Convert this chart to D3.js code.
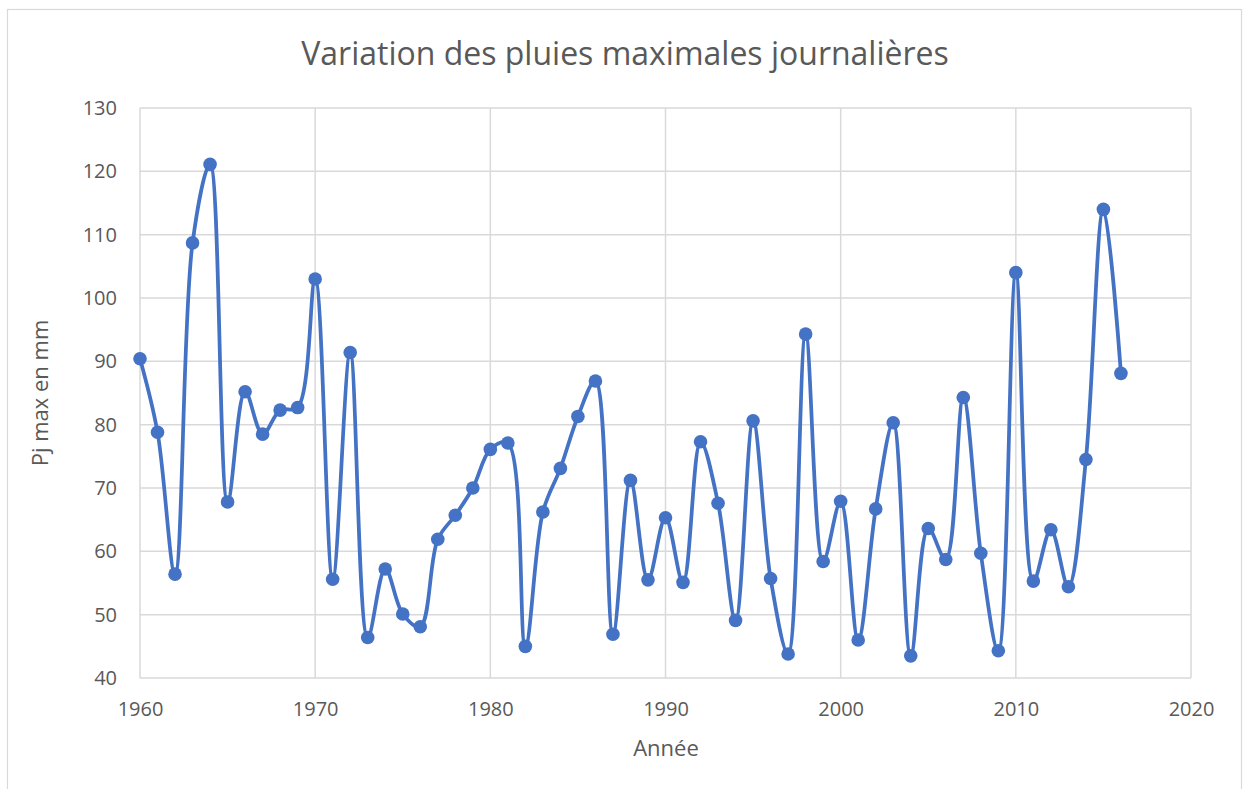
<!DOCTYPE html>
<html>
<head>
<meta charset="utf-8">
<script src="https://cdn.jsdelivr.net/npm/d3@7"></script>
<style>
  html, body { margin: 0; padding: 0; background: #ffffff; }
  svg { display: block; }
  text { font-family: "Open Sans", "Noto Sans", sans-serif; fill: #595959; }
</style>
</head>
<body>
<script>
const years = [1960,1961,1962,1963,1964,1965,1966,1967,1968,1969,
               1970,1971,1972,1973,1974,1975,1976,1977,1978,1979,
               1980,1981,1982,1983,1984,1985,1986,1987,1988,1989,
               1990,1991,1992,1993,1994,1995,1996,1997,1998,1999,
               2000,2001,2002,2003,2004,2005,2006,2007,2008,2009,
               2010,2011,2012,2013,2014,2015,2016];
const pjMax = [90.4,78.8,56.4,108.7,121.1,67.8,85.2,78.5,82.3,82.7,
               103.0,55.6,91.4,46.4,57.2,50.1,48.1,61.9,65.7,70.0,
               76.1,77.1,45.0,66.2,73.1,81.3,86.9,46.9,71.2,55.5,
               65.3,55.1,77.3,67.6,49.1,80.6,55.7,43.8,94.3,58.4,
               67.9,46.0,66.7,80.3,43.5,63.6,58.7,84.3,59.7,44.3,
               104.0,55.3,63.4,54.4,74.5,114.0,88.1];
const xTicks = [1960,1970,1980,1990,2000,2010,2020];
const yTicks = [40,50,60,70,80,90,100,110,120,130];
const title = "Variation des pluies maximales journalières";
const xTitle = "Année";
const yTitle = "Pj max en mm";

const W = 1244, H = 789;
const plot = {left: 140, right: 1191, top: 108, bottom: 678};

const svg = d3.select("body").append("svg").attr("width", W).attr("height", H);

// chart border
svg.append("rect").attr("x", 7.5).attr("y", 9.5).attr("width", 1234).attr("height", 790)
  .attr("fill", "#fff").attr("stroke", "#d9d9d9").attr("stroke-width", 1.2);

const x = d3.scaleLinear().domain([1960, 2020]).range([plot.left, plot.right]);
const y = d3.scaleLinear().domain([40, 130]).range([plot.bottom, plot.top]);

// gridlines
const grid = svg.append("g").attr("stroke", "#d9d9d9").attr("stroke-width", 1.5);
grid.selectAll("line.h").data(yTicks).join("line")
  .attr("x1", plot.left).attr("x2", plot.right)
  .attr("y1", d => y(d)).attr("y2", d => y(d));
grid.selectAll("line.v").data(xTicks).join("line")
  .attr("y1", plot.top).attr("y2", plot.bottom)
  .attr("x1", d => x(d)).attr("x2", d => x(d));

// axes (labels only, using d3 axes)
const xAxis = svg.append("g").attr("transform", `translate(0,${plot.bottom})`)
  .call(d3.axisBottom(x).tickValues(xTicks).tickFormat(d3.format("d")).tickSize(0).tickPadding(24));
const yAxis = svg.append("g").attr("transform", `translate(${plot.left},0)`)
  .call(d3.axisLeft(y).tickValues(yTicks).tickSize(0).tickPadding(23));
[xAxis, yAxis].forEach(a => {
  a.select(".domain").remove();
  a.selectAll("text").attr("font-size", 20).attr("fill", "#595959")
    .attr("font-family", "\"Open Sans\", sans-serif");
});

// line
const line = d3.line()
  .x((d, i) => x(years[i]))
  .y(d => y(d))
  .curve(d3.curveCatmullRom.alpha(0.5));
svg.append("path").datum(pjMax)
  .attr("d", line)
  .attr("fill", "none")
  .attr("stroke", "#4472C4")
  .attr("stroke-width", 3.75)
  .attr("stroke-linejoin", "round")
  .attr("stroke-linecap", "round");

svg.append("g").selectAll("circle").data(pjMax).join("circle")
  .attr("cx", (d, i) => x(years[i]))
  .attr("cy", d => y(d))
  .attr("r", 6.8)
  .attr("fill", "#4472C4");

// titles
svg.append("text").attr("x", 625).attr("y", 65).attr("text-anchor", "middle")
  .attr("font-size", 32).text(title);
svg.append("text").attr("x", 666).attr("y", 756).attr("text-anchor", "middle")
  .attr("font-size", 22).text(xTitle);
svg.append("text").attr("transform", "translate(48,393) rotate(-90)").attr("text-anchor", "middle")
  .attr("font-size", 22).text(yTitle);
</script>
</body>
</html>
